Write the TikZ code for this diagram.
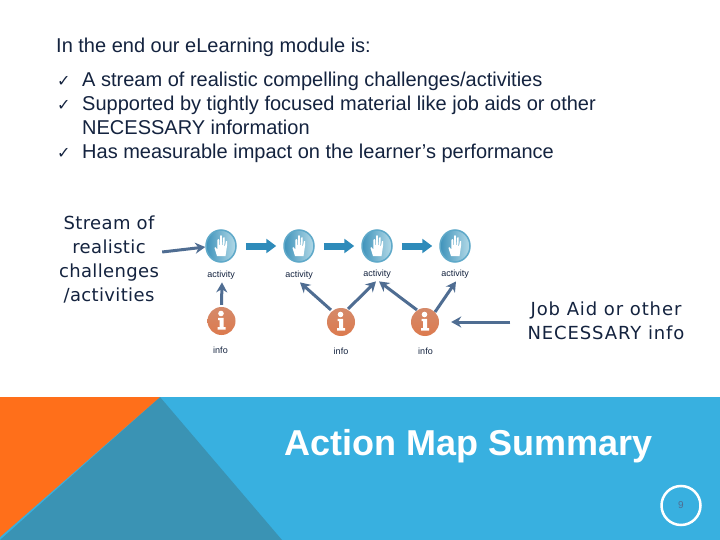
\documentclass[tikz,border=0pt]{standalone}
\usepackage{fontspec}
\setmainfont{Liberation Sans}
\newfontfamily\handfont[LetterSpace=2]{DejaVu Sans}
\newfontfamily\jobfont[LetterSpace=5]{DejaVu Sans}
\newfontfamily\symfont{DejaVu Sans}
\usetikzlibrary{arrows.meta,calc,shapes.geometric}
\definecolor{ink}{HTML}{14233F}
\definecolor{band}{HTML}{38B0E0}
\definecolor{bandd}{HTML}{3A93B4}
\definecolor{orng}{HTML}{FF6F1A}
\definecolor{slate}{HTML}{4F6D92}
\definecolor{teal}{HTML}{2E8BBA}
\definecolor{rust}{HTML}{DC7A4E}
\definecolor{rustl}{HTML}{D58A6A}
\definecolor{ringc}{HTML}{5FA9C9}
\definecolor{ballL}{HTML}{3F93BB}
\definecolor{ballR}{HTML}{B4DAE8}
\tikzset{
 body/.style={font=\fontsize{20}{24}\selectfont,text=ink,anchor=base west,inner sep=0},
 tick/.style={font=\symfont\fontsize{16}{16}\selectfont,text=ink,anchor=base west,inner sep=0},
 hand/.style={font=\handfont\fontsize{18}{24}\selectfont,text=ink,align=center,inner sep=0},
 handjob/.style={font=\jobfont\fontsize{18}{24}\selectfont,text=ink,align=center,inner sep=0},
 small/.style={font=\fontsize{9}{10}\selectfont,text=ink,inner sep=0},
 act/.style={ellipse,minimum width=30pt,minimum height=32pt,inner sep=0,draw=ringc,line width=1.5pt,left color=ballL,right color=ballR},
 inf/.style={circle,minimum size=28pt,inner sep=0,top color=rustl,bottom color=rust},
 flow/.style={draw=teal,line width=7pt,-{Triangle[length=10pt,width=14pt]}},
 link/.style={draw=slate,line width=3pt,-{Stealth[length=10pt,width=11pt]}},
}
\newcommand{\palm}[1]{%
 \fill[white,shift={(#1)}] (-4,10) -- (-6.5,2) -- (-5.8,1) -- (-3.6,3.5) -- (-3.6,-6) -- (-2.6,-7) -- (-1.7,-6) -- (-1.5,-1) -- (-0.9,-1) -- (-0.9,-10) -- (0,-11) -- (0.9,-10) -- (0.9,-1) -- (1.6,-1) -- (2,-8) -- (3,-9) -- (3.7,-8) -- (3.4,0) -- (4,0) -- (5,-5) -- (6,-5) -- (6,0) -- (4.5,10) -- cycle;}
\newcommand{\infoi}[1]{%
 \fill[white,shift={(#1)}] (-0.5,-7.5) circle (2.8pt);
 \fill[white,shift={(#1)}] (-3.5,-3.2) -- (2,-3.2) -- (2,6) -- (4,6) -- (4,8.5) -- (-4,8.5) -- (-4,6) -- (-1.8,6) -- (-1.8,-1) -- (-3.5,-1) -- cycle;}
\begin{document}
\begin{tikzpicture}[x=1pt,y=-1pt]
\useasboundingbox (0,0) rectangle (720,540);
\fill[white] (0,0) rectangle (720,540);
\fill[band] (0,397) rectangle (720,540);
\fill[bandd] (160,397) -- (282,540) -- (0,540) -- cycle;
\fill[orng] (0,397) -- (160,397) -- (0,537) -- cycle;
\node[body] (t0) at (56,53) {In the end our eLearning module is:};
\node[tick] (c1) at (57,87) {✓};
\node[body] (t1) at (82,87) {A stream of realistic compelling challenges/activities};
\node[tick] (c2) at (57,111) {✓};
\node[body] (t2) at (82,111) {Supported by tightly focused material like job aids or other};
\node[body] (t3) at (82,135) {NECESSARY information};
\node[tick] (c3) at (57,159) {✓};
\node[body] (t4) at (82,159) {Has measurable impact on the learner’s performance};
\node[hand] (stream) at (109,259) {Stream of\\realistic\\challenges\\/activities};
\node[handjob] (job) at (606,321) {Job Aid or other\\NECESSARY info};
\node[act] (a1) at (221,246) {};
\node[act] (a2) at (299,246) {};
\node[act] (a3) at (377,246) {};
\node[act] (a4) at (455,246) {};
\foreach \n in {a1,a2,a3,a4}{\palm{\n}}
\node[small] (la1) at (221,275) {activity};
\node[small] (la2) at (299,275) {activity};
\node[small] (la3) at (377,274) {activity};
\node[small] (la4) at (455,274) {activity};
\node[inf] (i1) at (221.5,321) {};
\node[inf] (i2) at (341,322) {};
\node[inf] (i3) at (425,322) {};
\foreach \n in {i1,i2,i3}{\infoi{\n}}
\node[small] (li1) at (220.5,350) {info};
\node[small] (li2) at (341,351) {info};
\node[small] (li3) at (425.5,351) {info};
\draw[flow] ($(a1.east)+(9,0)$) -- ($(a2.west)+(-7,0)$);
\draw[flow] ($(a2.east)+(9,0)$) -- ($(a3.west)+(-7,0)$);
\draw[flow] ($(a3.east)+(9,0)$) -- ($(a4.west)+(-7,0)$);
\draw[link] ($(i1.north)+(0,-2)$) -- ($(la1.south)+(1,3)$);
\draw[link] ($(i2.north west)+(0,-2)$) -- ($(la2.south)+(1,3)$);
\draw[link] ($(i2.north east)+(-3,-3)$) -- ($(la3.south)+(-1,3)$);
\draw[link] ($(i3.north west)+(2,-2)$) -- ($(la3.south)+(2,3)$);
\draw[link] ($(i3.north east)+(0,0)$) -- ($(la4.south)+(1,3)$);
\draw[link] ($(job.west |- i3)+(-17,0)$) -- ($(i3.east)+(12,0)$);
\draw[link] ($(stream.east |- 0,252)+(3,0)$) -- ($(a1.west)+(0,1)$);
\node[font=\fontsize{36}{40}\selectfont\bfseries,text=white,anchor=base west,inner sep=0] (title) at (284,455) {Action Map Summary};
\node[circle,draw=white,line width=2.5pt,minimum size=39pt,inner sep=0] (pg) at (681,505.5) {};
\node[font=\fontsize{10}{10}\selectfont,text=slate,inner sep=0] (pn) at (pg) {9};
\end{tikzpicture}
\end{document}
